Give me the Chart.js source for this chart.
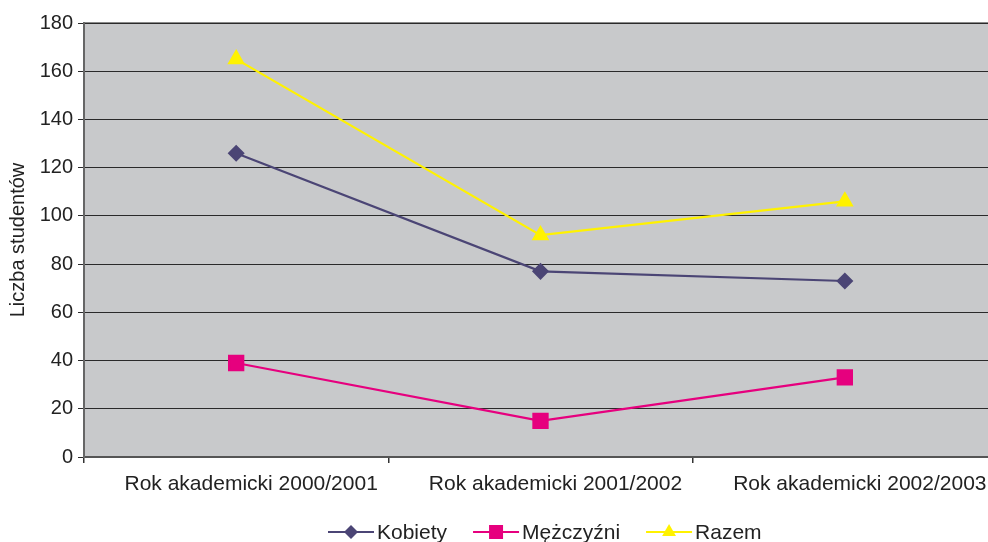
<!DOCTYPE html>
<html>
<head>
<meta charset="utf-8">
<script src="https://cdn.jsdelivr.net/npm/chart.js@4.4.1/dist/chart.umd.min.js"></script>
<style>
html,body{margin:0;padding:0;background:#fff;overflow:hidden;}
#wrap{width:988px;height:542px;position:relative;overflow:hidden;}
#c{position:absolute;left:0;top:0;width:1010px;height:542px;}
</style>
</head>
<body>
<div id="wrap"><canvas id="c" width="1010" height="542"></canvas></div>
<script>
const categories = ["Rok akademicki 2000/2001", "Rok akademicki 2001/2002", "Rok akademicki 2002/2003"];
const kobiety = [126, 77, 73];
const mezczyzni = [39, 15, 33];
const razem = [165, 92, 106];
const yTicks = [0, 20, 40, 60, 80, 100, 120, 140, 160, 180];
const yTitle = "Liczba studentów";

const FONT = "'Liberation Sans', Arial, sans-serif";
const C_K = '#4b4575', C_M = '#e6007e', C_R = '#fff200';

const bgPlugin = {
  id: 'bg',
  beforeDraw(chart) {
    const {ctx, chartArea: a} = chart;
    ctx.save();
    ctx.fillStyle = '#c8c9cb';
    ctx.fillRect(a.left, a.top, a.right - a.left, a.bottom - a.top);
    ctx.strokeStyle = '#8a8a8a';
    ctx.lineWidth = 2;
    ctx.beginPath();
    ctx.moveTo(a.left, a.top); ctx.lineTo(a.right, a.top);
    ctx.stroke();
    ctx.restore();
  }
};

function drawMarker(ctx, style, x, y, color) {
  ctx.save();
  ctx.fillStyle = color;
  ctx.beginPath();
  if (style === 'rectRot') {
    const r = 7;
    ctx.moveTo(x, y - r); ctx.lineTo(x + r, y); ctx.lineTo(x, y + r); ctx.lineTo(x - r, y);
  } else if (style === 'rect') {
    const s = 7;
    ctx.rect(x - s, y - s, 2 * s, 2 * s);
  } else {
    const r = 8;
    ctx.moveTo(x, y - r);
    ctx.lineTo(x + r * 0.866, y + r * 0.5);
    ctx.lineTo(x - r * 0.866, y + r * 0.5);
  }
  ctx.closePath();
  ctx.fill();
  ctx.restore();
}

const legendPlugin = {
  id: 'customLegend',
  afterDraw(chart) {
    const ctx = chart.ctx;
    const y = 532;
    let x = 328;
    ctx.save();
    ctx.font = '21px ' + FONT;
    ctx.textBaseline = 'middle';
    chart.data.datasets.forEach(ds => {
      ctx.strokeStyle = ds.borderColor;
      ctx.lineWidth = 2;
      ctx.beginPath();
      ctx.moveTo(x, y); ctx.lineTo(x + 46, y); ctx.stroke();
      drawMarker(ctx, ds.pointStyle, x + 23, y, ds.borderColor);
      ctx.fillStyle = '#222';
      ctx.fillText(ds.label, x + 49, y + 1);
      x += 49 + ctx.measureText(ds.label).width + 26;
    });
    ctx.restore();
  }
};

new Chart(document.getElementById('c'), {
  type: 'line',
  data: {
    labels: categories,
    datasets: [
      {label: 'Kobiety', data: kobiety, borderColor: C_K, backgroundColor: C_K, pointStyle: 'rectRot', pointRadius: 7, pointHoverRadius: 7, borderWidth: 2.2},
      {label: 'Mężczyźni', data: mezczyzni, borderColor: C_M, backgroundColor: C_M, pointStyle: 'rect', pointRadius: 10, pointHoverRadius: 10, borderWidth: 2.2},
      {label: 'Razem', data: razem, borderColor: C_R, backgroundColor: C_R, pointStyle: 'triangle', pointRadius: 8, pointHoverRadius: 8, borderWidth: 2.2}
    ]
  },
  options: {
    responsive: false,
    animation: false,
    layout: {padding: {top: 23, right: 13, bottom: 35, left: 0}},
    plugins: {legend: {display: false}, tooltip: {enabled: false}},
    scales: {
      x: {
        offset: true,
        grid: {offset: true, drawOnChartArea: false, tickLength: 6, color: '#333', lineWidth: 1.5},
        border: {color: '#555', width: 2},
        ticks: {color: '#222', font: {family: FONT, size: 21}, padding: 9, labelOffset: 15, maxRotation: 0, autoSkip: false},
        afterFit(s) { s.height = 50; s.paddingLeft = 0; s.paddingRight = 0; }
      },
      y: {
        min: 0, max: 180,
        afterBuildTicks(s) { s.ticks = yTicks.map(v => ({value: v})); },
        grid: {color: '#2a2a2a', lineWidth: 1, tickLength: 6},
        border: {color: '#666', width: 2},
        ticks: {color: '#222', font: {family: FONT, size: 20}, padding: 5},
        title: {display: true, text: yTitle, color: '#222', font: {family: FONT, size: 20}, padding: {top: 6, bottom: 0}},
        afterFit(s) { s.width = 84; }
      }
    }
  },
  plugins: [bgPlugin, legendPlugin]
});
</script>
</body>
</html>
